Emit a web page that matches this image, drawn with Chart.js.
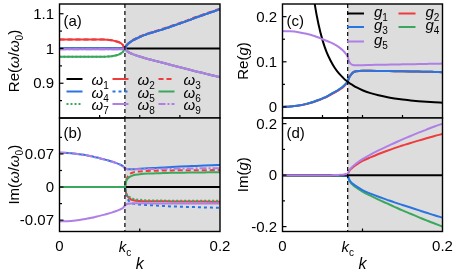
<!DOCTYPE html>
<html>
<head>
<meta charset="utf-8">
<script src="https://cdn.jsdelivr.net/npm/chart.js@4.4.1/dist/chart.umd.min.js"></script>
<style>
  html, body { margin: 0; padding: 0; background: #fff; }
  #wrap { position: relative; width: 457px; height: 270px; }
  #wrap canvas { position: absolute; left: 0; top: 0; }
</style>
</head>
<body>
<div id="wrap">
  <canvas id="pa" width="457" height="270"></canvas>
  <canvas id="pb" width="457" height="270"></canvas>
  <canvas id="pc" width="457" height="270"></canvas>
  <canvas id="pd" width="457" height="270"></canvas>
</div>
<script>
/* global Chart */

// ---- data ----
const KC = 0.0815;
const K = [0, 0.01, 0.02, 0.03, 0.035, 0.04, 0.045, 0.05, 0.055, 0.06, 0.065, 0.07, 0.075, 0.079, 0.0815,
  0.083, 0.085, 0.088, 0.092, 0.1, 0.11, 0.12, 0.13, 0.14, 0.15, 0.16, 0.17, 0.18, 0.19, 0.2];

// (a) Re(omega / omega0)
const reW1 = [1, 1, 1, 1, 1, 1, 1, 1, 1, 1, 1, 1, 1, 1, 1, 1, 1, 1, 1, 1, 1, 1, 1, 1, 1, 1, 1, 1, 1, 1];
const reW2 = [1.026, 1.026, 1.026, 1.026, 1.026, 1.026, 1.026, 1.026, 1.026, 1.025, 1.024, 1.021, 1.017, 1.010, 1.000,
  1.007, 1.012, 1.018, 1.024, 1.033, 1.042, 1.049, 1.056, 1.064, 1.072, 1.080, 1.089, 1.097, 1.105, 1.113];
const reW3 = [1.026, 1.026, 1.026, 1.026, 1.026, 1.026, 1.026, 1.026, 1.026, 1.025, 1.024, 1.021, 1.017, 1.010, 1.000,
  1.0085, 1.0135, 1.0195, 1.0255, 1.0345, 1.0435, 1.0505, 1.0575, 1.0655, 1.0735, 1.0815, 1.0905, 1.0985, 1.1065, 1.1145];
const reW4 = [1, 1, 1, 1, 1, 1, 1, 1, 1, 1, 1, 1, 1, 1, 1,
  1.007, 1.012, 1.018, 1.024, 1.033, 1.042, 1.049, 1.056, 1.064, 1.072, 1.080, 1.089, 1.097, 1.105, 1.113];
const reW5 = [1, 1, 1, 1, 1, 1, 1, 1, 1, 1, 1, 1, 1, 1, 1,
  1.007, 1.012, 1.018, 1.024, 1.033, 1.042, 1.049, 1.056, 1.064, 1.072, 1.080, 1.089, 1.097, 1.105, 1.113];
const reW6 = [0.976, 0.976, 0.976, 0.976, 0.976, 0.976, 0.976, 0.976, 0.976, 0.977, 0.978, 0.980, 0.984, 0.990, 1.000,
  0.995, 0.991, 0.987, 0.983, 0.977, 0.970, 0.964, 0.958, 0.952, 0.946, 0.940, 0.934, 0.929, 0.923, 0.918];
const reW7 = [0.976, 0.976, 0.976, 0.976, 0.976, 0.976, 0.976, 0.976, 0.976, 0.977, 0.978, 0.980, 0.984, 0.990, 1.000,
  0.995, 0.991, 0.987, 0.983, 0.977, 0.970, 0.964, 0.958, 0.952, 0.946, 0.940, 0.934, 0.929, 0.923, 0.918];
const reW8 = [0.998, 0.998, 0.998, 0.998, 0.998, 0.998, 0.998, 0.998, 0.998, 0.998, 0.998, 0.998, 0.998, 0.999, 1.000,
  0.995, 0.991, 0.987, 0.983, 0.977, 0.970, 0.964, 0.958, 0.952, 0.946, 0.940, 0.934, 0.929, 0.923, 0.918];
const reW9 = [0.998, 0.998, 0.998, 0.998, 0.998, 0.998, 0.998, 0.998, 0.998, 0.998, 0.998, 0.998, 0.998, 0.999, 1.000,
  0.995, 0.991, 0.987, 0.983, 0.977, 0.970, 0.964, 0.958, 0.952, 0.946, 0.940, 0.934, 0.929, 0.923, 0.918];

// (b) Im(omega / omega0)
const imW1 = [0, 0, 0, 0, 0, 0, 0, 0, 0, 0, 0, 0, 0, 0, 0, 0, 0, 0, 0, 0, 0, 0, 0, 0, 0, 0, 0, 0, 0, 0];
const imW2 = [0, 0, 0, 0, 0, 0, 0, 0, 0, 0, 0, 0, 0, 0, 0,
  -0.013, -0.020, -0.025, -0.028, -0.0295, -0.030, -0.030, -0.0302, -0.0304, -0.0305, -0.0306, -0.0307, -0.0308, -0.0309, -0.031];
const imW3 = [0, 0, 0, 0, 0, 0, 0, 0, 0, 0, 0, 0, 0, 0, 0,
  0.013, 0.022, 0.028, 0.031, 0.033, 0.034, 0.0345, 0.035, 0.0352, 0.0354, 0.0355, 0.0356, 0.0357, 0.0358, 0.036];
const imW4 = [0.0727, 0.0722, 0.0706, 0.0682, 0.0667, 0.065, 0.063, 0.061, 0.0588, 0.0565, 0.054, 0.0512, 0.0478, 0.0442, 0.040,
  0.0385, 0.0378, 0.0376, 0.0378, 0.0387, 0.0395, 0.0405, 0.0415, 0.0423, 0.0432, 0.044, 0.0447, 0.0455, 0.0462, 0.0468];
const imW5 = [0, 0, 0, 0, 0, 0, 0, 0, 0, 0, 0, 0, 0, 0, 0,
  -0.015, -0.025, -0.032, -0.035, -0.037, -0.038, -0.039, -0.040, -0.041, -0.0415, -0.042, -0.0425, -0.043, -0.0435, -0.044];
const imW6 = [0, 0, 0, 0, 0, 0, 0, 0, 0, 0, 0, 0, 0, 0, 0,
  0.012, 0.018, 0.022, 0.025, 0.027, 0.0285, 0.029, 0.0295, 0.030, 0.0302, 0.0305, 0.0307, 0.031, 0.0312, 0.0315];
const imW7 = [0, 0, 0, 0, 0, 0, 0, 0, 0, 0, 0, 0, 0, 0, 0,
  -0.012, -0.018, -0.022, -0.025, -0.027, -0.028, -0.0285, -0.0287, -0.0288, -0.0289, -0.029, -0.029, -0.029, -0.029, -0.029];
const imW8 = [-0.0727, -0.0722, -0.0706, -0.0682, -0.0667, -0.065, -0.063, -0.061, -0.0588, -0.0565, -0.054, -0.0512, -0.0478, -0.0442, -0.039,
  -0.037, -0.0355, -0.035, -0.0345, -0.0345, -0.0345, -0.0346, -0.0347, -0.0348, -0.0348, -0.0349, -0.0349, -0.035, -0.035, -0.035];
const imW9 = [0.0727, 0.0722, 0.0706, 0.0682, 0.0667, 0.065, 0.063, 0.061, 0.0588, 0.0565, 0.054, 0.0512, 0.0478, 0.0442, 0.040,
  0.0385, 0.0378, 0.0375, 0.0375, 0.0378, 0.038, 0.0382, 0.0385, 0.0388, 0.039, 0.0392, 0.0395, 0.0397, 0.0399, 0.040];

// (c) Re(g)
const reG1 = [null, null, null, null, 0.30, 0.231, 0.183, 0.148, 0.122, 0.103, 0.0875, 0.0755, 0.066, 0.059, 0.056,
  0.0535, 0.051, 0.048, 0.0437, 0.037, 0.0306, 0.0257, 0.0219, 0.0189, 0.0164, 0.0145, 0.0128, 0.0114, 0.0102, 0.0093];
const reG2 = [0, 0.0008, 0.0029, 0.0065, 0.0089, 0.0115, 0.0147, 0.0183, 0.022, 0.0268, 0.0318, 0.0367, 0.0425, 0.0495, 0.0555,
  0.064, 0.070, 0.076, 0.079, 0.080, 0.080, 0.0798, 0.0795, 0.0792, 0.079, 0.0787, 0.0783, 0.078, 0.0775, 0.077];
const reG3 = [0, 0.0008, 0.003, 0.0068, 0.0093, 0.012, 0.0153, 0.019, 0.023, 0.028, 0.033, 0.038, 0.044, 0.051, 0.057,
  0.064, 0.070, 0.076, 0.079, 0.080, 0.080, 0.0798, 0.0795, 0.0792, 0.079, 0.0787, 0.0783, 0.078, 0.0775, 0.077];
const reG4 = [0, 0.0008, 0.003, 0.0068, 0.0093, 0.012, 0.0153, 0.019, 0.023, 0.028, 0.033, 0.038, 0.044, 0.051, 0.057,
  0.064, 0.070, 0.076, 0.079, 0.080, 0.080, 0.0798, 0.0795, 0.0792, 0.079, 0.0787, 0.0783, 0.078, 0.0775, 0.077];
const reG5 = [0.168, 0.1675, 0.1655, 0.162, 0.1597, 0.157, 0.1537, 0.150, 0.1467, 0.143, 0.1385, 0.133, 0.126, 0.118, 0.111,
  0.102, 0.096, 0.093, 0.0925, 0.0925, 0.093, 0.0933, 0.0936, 0.094, 0.0943, 0.0946, 0.095, 0.0953, 0.0956, 0.096];

// (d) Im(g)
const imG1 = [0, 0, 0, 0, 0, 0, 0, 0, 0, 0, 0, 0, 0, 0, 0, 0, 0, 0, 0, 0, 0, 0, 0, 0, 0, 0, 0, 0, 0, 0];
const imG2 = [0, 0, 0, 0, 0, 0, 0, 0, 0, 0, 0, 0.0005, 0.001, 0.002, 0.003,
  0.013, 0.022, 0.031, 0.040, 0.055, 0.069, 0.082, 0.094, 0.105, 0.115, 0.125, 0.134, 0.143, 0.152, 0.160];
const imG3 = [0, 0, 0, 0, 0, 0, 0, 0, 0, 0, 0, -0.0005, -0.001, -0.002, -0.003,
  -0.015, -0.025, -0.034, -0.043, -0.058, -0.072, -0.084, -0.095, -0.106, -0.116, -0.126, -0.136, -0.146, -0.156, -0.165];
const imG4 = [-0.002, -0.002, -0.002, -0.002, -0.002, -0.002, -0.002, -0.002, -0.002, -0.002, -0.002, -0.0025, -0.003, -0.0035, -0.004,
  -0.017, -0.028, -0.038, -0.048, -0.064, -0.080, -0.095, -0.109, -0.123, -0.137, -0.150, -0.163, -0.176, -0.188, -0.200];
const imG5 = [0, 0, 0, 0, 0, 0, 0, 0, 0, 0, 0.0005, 0.001, 0.0015, 0.003, 0.005,
  0.015, 0.025, 0.035, 0.045, 0.062, 0.080, 0.096, 0.111, 0.125, 0.139, 0.152, 0.165, 0.177, 0.189, 0.200];

// ticks and labels
const yTicksA = [0.9, 1, 1.1];
const yLabelsA = ["0.9", "1", "1.1"];
const yMinorA = [0.85, 0.95, 1.05];
const yTicksB = [-0.07, 0, 0.07];
const yLabelsB = ["-0.07", "0", "0.07"];
const yMinorB = [-0.035, 0.035, 0.105];
const yTicksC = [0, 0.1, 0.2];
const yLabelsC = ["0", "0.1", "0.2"];
const yMinorC = [0.05, 0.15];
const yTicksD = [-0.2, 0, 0.2];
const yLabelsD = ["-0.2", "0", "0.2"];
const yMinorD = [-0.1, 0.1];
const xMinor = [0.05, 0.1, 0.15];

// ---- look ----
const W = 457;
const H = 270;
const FONT = '"Liberation Sans", Arial, sans-serif';
const RED = "#ee3b3b";
const BLUE = "#2a74e2";
const GREEN = "#3aa85c";
const PURPLE = "#b07fe6";
const BLACK = "#000000";
const SHADE = "#dddddd";

const DASH = [5, 3];
const DOT = [3, 3];
const DOTS = [2, 2];
const DASHDOT = [7, 2, 2, 2];

function line(ctx, x1, y1, x2, y2) {
  ctx.beginPath();
  ctx.moveTo(x1, y1);
  ctx.lineTo(x2, y2);
  ctx.stroke();
}

// parts: [text, style] with style "" | "i" | "sub"
function richText(ctx, parts, x, y, size, align) {
  const fonts = parts.map(([, s]) =>
    s === "sub" ? `${Math.round(size * 0.68)}px ${FONT}` : `${s === "i" ? "italic " : ""}${size}px ${FONT}`);
  const widths = parts.map(([t], i) => {
    ctx.font = fonts[i];
    return ctx.measureText(t).width;
  });
  const total = widths.reduce((a, b) => a + b, 0);
  let cx = align === "center" ? x - total / 2 : align === "right" ? x - total : x;
  ctx.textAlign = "left";
  ctx.textBaseline = "alphabetic";
  parts.forEach(([t, s], i) => {
    ctx.font = fonts[i];
    ctx.fillText(t, cx, s === "sub" ? y + size * 0.27 : y);
    cx += widths[i];
  });
}

const decor = {
  id: "decor",
  beforeDatasetsDraw(chart, args, o) {
    const { ctx, chartArea: a, scales: { x } } = chart;
    const xk = x.getPixelForValue(KC);
    ctx.save();
    ctx.fillStyle = SHADE;
    ctx.fillRect(xk, a.top, a.right - xk, a.bottom - a.top);
    ctx.restore();
  },
  afterDatasetsDraw(chart, args, o) {
    const { ctx, chartArea: a, scales: { x, y } } = chart;
    ctx.save();
    ctx.strokeStyle = BLACK;
    ctx.fillStyle = BLACK;

    // dashed line at k_c
    const xk = x.getPixelForValue(KC);
    ctx.lineWidth = 1.2;
    ctx.setLineDash([4, 3]);
    line(ctx, xk, a.top, xk, a.bottom);
    ctx.setLineDash([]);

    // inward ticks
    ctx.lineWidth = 1.2;
    o.yTicks.forEach((v) => {
      const py = y.getPixelForValue(v);
      line(ctx, a.left, py, a.left + 4, py);
    });
    o.yMinor.forEach((v) => {
      const py = y.getPixelForValue(v);
      if (py > a.top + 2 && py < a.bottom - 2) line(ctx, a.left, py, a.left + 2.5, py);
    });
    o.xTicks.forEach((v) => {
      const px = x.getPixelForValue(v);
      line(ctx, px, a.bottom, px, a.bottom - 3);
    });

    // frame
    ctx.lineWidth = 1.4;
    ctx.strokeRect(a.left, a.top, a.right - a.left, a.bottom - a.top);

    // y tick labels
    ctx.font = `15px ${FONT}`;
    ctx.textAlign = "right";
    ctx.textBaseline = "middle";
    o.yTicks.forEach((v, i) => ctx.fillText(o.yLabels[i], a.left - 5.5, y.getPixelForValue(v) + 1));

    // x tick labels (bottom panels)
    if (o.xLabels) {
      ctx.textAlign = "center";
      ctx.fillText("0", x.getPixelForValue(0), 247);
      ctx.fillText("0.2", x.getPixelForValue(0.2), 247);
      richText(ctx, [["k", "i"], ["c", "sub"]], x.getPixelForValue(KC), 252, 15, "center");
      richText(ctx, [["k", "i"]], (a.left + a.right) / 2, 269, 16, "center");
    }

    // axis title (rotated)
    ctx.save();
    ctx.translate(o.titleX, (a.top + a.bottom) / 2);
    ctx.rotate(-Math.PI / 2);
    richText(ctx, o.title, 0, 5.5, 15, "center");
    ctx.restore();

    // panel label
    ctx.font = `15px ${FONT}`;
    ctx.textAlign = "left";
    ctx.textBaseline = "alphabetic";
    ctx.fillText(o.tag, a.left + 4, a.top + o.tagDy);

    // legend
    if (o.legend) {
      o.legend.items.forEach((it, i) => {
        const col = i % o.legend.cols;
        const row = Math.floor(i / o.legend.cols);
        const lx = o.legend.x[col];
        const ly = o.legend.y[row];
        ctx.strokeStyle = it.color;
        ctx.lineWidth = 2;
        ctx.setLineDash(it.dash || []);
        line(ctx, lx, ly, lx + o.legend.len, ly);
        ctx.setLineDash([]);
        ctx.fillStyle = BLACK;
        richText(ctx, [[it.sym, "i"], [it.idx, "sub"]], lx + o.legend.gap, ly + o.legend.dy, 15, "left");
      });
    }
    ctx.restore();
  },
};

function series(label, values, color, dash, order) {
  return {
    label,
    data: K.map((k, j) => ({ x: k, y: values[j] })),
    borderColor: color,
    borderWidth: 2,
    borderDash: dash || [],
    pointRadius: 0,
    fill: false,
    cubicInterpolationMode: "monotone",
    order,
  };
}

function makePanel(id, box, yMin, yMax, datasets, deco) {
  return new Chart(document.getElementById(id), {
    type: "line",
    data: { datasets },
    options: {
      responsive: false,
      devicePixelRatio: 1,
      animation: false,
      events: [],
      layout: { padding: { left: box.l, top: box.t, right: W - box.r, bottom: H - box.b } },
      plugins: { legend: { display: false }, tooltip: { enabled: false }, decor: deco },
      scales: {
        x: { type: "linear", display: false, min: 0, max: 0.2 },
        y: { type: "linear", display: false, min: yMin, max: yMax },
      },
    },
    plugins: [decor],
  });
}

const omegaTitle = (part) => [[part, ""], ["ω", "i"], ["/", ""], ["ω", "i"], ["0", "sub"], [")", ""]];

const omegaLegend = {
  cols: 3,
  x: [66.5, 112.5, 158.5],
  y: [79, 91.5, 104],
  len: 16,
  gap: 25,
  dy: 6,
  items: [
    { sym: "ω", idx: "1", color: BLACK },
    { sym: "ω", idx: "2", color: RED },
    { sym: "ω", idx: "3", color: RED, dash: DASH },
    { sym: "ω", idx: "4", color: BLUE },
    { sym: "ω", idx: "5", color: BLUE, dash: DOT },
    { sym: "ω", idx: "6", color: GREEN },
    { sym: "ω", idx: "7", color: GREEN, dash: DOTS },
    { sym: "ω", idx: "8", color: PURPLE },
    { sym: "ω", idx: "9", color: PURPLE, dash: DASHDOT },
  ],
};

const gLegend = {
  cols: 2,
  x: [347, 398.5],
  y: [13.5, 27, 41.5],
  len: 17,
  gap: 27,
  dy: 3,
  items: [
    { sym: "g", idx: "1", color: BLACK },
    { sym: "g", idx: "2", color: RED },
    { sym: "g", idx: "3", color: BLUE },
    { sym: "g", idx: "4", color: GREEN },
    { sym: "g", idx: "5", color: PURPLE },
  ],
};

function omegaSets(v) {
  return [
    series("ω1", v[0], BLACK, null, 9),
    series("ω2", v[1], RED, null, 8),
    series("ω3", v[2], RED, DASH, 7),
    series("ω4", v[3], BLUE, null, 6),
    series("ω5", v[4], BLUE, DOT, 5),
    series("ω6", v[5], GREEN, null, 4),
    series("ω7", v[6], GREEN, DOTS, 3),
    series("ω8", v[7], PURPLE, null, 2),
    series("ω9", v[8], PURPLE, DASHDOT, 1),
  ];
}

function gSets(v) {
  return [
    series("g1", v[0], BLACK, null, 2),
    series("g2", v[1], RED, null, 4),
    series("g3", v[2], BLUE, null, 3),
    series("g4", v[3], GREEN, null, 5),
    series("g5", v[4], PURPLE, null, 1),
  ];
}

makePanel("pa", { l: 59.5, r: 220, t: 4, b: 118 }, 0.8, 1.128,
  omegaSets([reW1, reW2, reW3, reW4, reW5, reW6, reW7, reW8, reW9]),
  { yTicks: yTicksA, yLabels: yLabelsA, yMinor: yMinorA, xTicks: xMinor, title: omegaTitle("Re("),
    titleX: 13, tag: "(a)", tagDy: 21.5, legend: omegaLegend });

makePanel("pb", { l: 59.5, r: 220, t: 118, b: 231.5 }, -0.094, 0.146,
  omegaSets([imW1, imW2, imW3, imW4, imW5, imW6, imW7, imW8, imW9]),
  { yTicks: yTicksB, yLabels: yLabelsB, yMinor: yMinorB, xTicks: [0.1], title: omegaTitle("Im("),
    titleX: 13, tag: "(b)", tagDy: 19.5, xLabels: true });

makePanel("pc", { l: 282.5, r: 442.5, t: 4, b: 118 }, -0.0245, 0.228,
  gSets([reG1, reG2, reG3, reG4, reG5]),
  { yTicks: yTicksC, yLabels: yLabelsC, yMinor: yMinorC, xTicks: xMinor,
    title: [["Re(", ""], ["g", "i"], [")", ""]], titleX: 242, tag: "(c)", tagDy: 22, legend: gLegend });

makePanel("pd", { l: 282.5, r: 442.5, t: 118, b: 231.5 }, -0.219, 0.222,
  gSets([imG1, imG2, imG3, imG4, imG5]),
  { yTicks: yTicksD, yLabels: yLabelsD, yMinor: yMinorD, xTicks: [0.1],
    title: [["Im(", ""], ["g", "i"], [")", ""]], titleX: 242, tag: "(d)", tagDy: 19.5, xLabels: true });
</script>
</body>
</html>
